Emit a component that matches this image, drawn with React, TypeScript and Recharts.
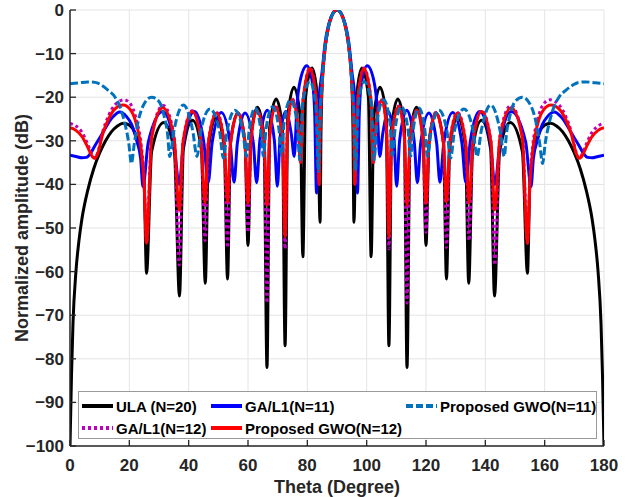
import React from 'react';
import { LineChart, Line, XAxis, YAxis, CartesianGrid } from 'recharts';

type Pt = [number, number];

const xTicks = [0, 20, 40, 60, 80, 100, 120, 140, 160, 180];
const yTicks = [-100, -90, -80, -70, -60, -50, -40, -30, -20, -10, 0];

// ULA (N=20)
const ulaN20: Pt[] = [
  [0, -100], [0.5, -84], [1, -72], [2, -60], [3, -53], [4, -48], [6, -41.3], [8, -36.4], [10, -32.8], [12, -30], [14, -27.9], [16, -26.6], [18, -26], [20, -26.4], [22, -28.4], [24, -33.6], [25, -40], [25.8, -60.4],
  [27.5, -32.5], [31.6, -25.8], [35.2, -32.5], [36.9, -65.6],
  [38.2, -32], [41.3, -25.3], [44.3, -32], [45.6, -62.7],
  [46.7, -31.5], [49.4, -24.6], [52, -31.5], [53.1, -61.7],
  [54.1, -30.5], [56.6, -23.6], [59, -30.5], [60, -54],
  [61, -29], [63.2, -22.3], [65.4, -29], [66.4, -82],
  [67.3, -27], [69.5, -20.4], [71.6, -27], [72.5, -77],
  [73.4, -24.5], [75.5, -17.7], [77.6, -24.5], [78.5, -56.6],
  [79.4, -20], [81.6, -13.3], [83.4, -20], [84.3, -48.7],
  [84.6, -28], [85, -16.9], [86, -8.6], [87, -4.3], [88, -1.8], [89, -0.4], [90, 0],
  [91, -0.4], [92, -1.8], [93, -4.3], [94, -8.6], [95, -16.9], [95.4, -28], [95.7, -48.7],
  [96.6, -20], [98.4, -13.3], [100.6, -20], [101.5, -56.6],
  [102.4, -24.5], [104.5, -17.7], [106.6, -24.5], [107.5, -77],
  [108.4, -27], [110.5, -20.4], [112.7, -27], [113.6, -82],
  [114.6, -29], [116.8, -22.3], [119, -29], [120, -54],
  [121, -30.5], [123.4, -23.6], [125.9, -30.5], [126.9, -61.7],
  [128, -31.5], [130.6, -24.6], [133.3, -31.5], [134.4, -62.7],
  [135.7, -32], [138.7, -25.3], [141.8, -32], [143.1, -65.6],
  [144.8, -32.5], [148.4, -25.8], [152.5, -32.5], [154.2, -60.4],
  [155, -40], [156, -33.6], [158, -28.4], [160, -26.4], [162, -26], [164, -26.6], [166, -27.9], [168, -30], [170, -32.8], [172, -36.4], [174, -41.3], [176, -48], [177, -53], [178, -60], [179, -72], [179.5, -84], [180, -100],
];

// GA/L1 (N=11)
const gaN11: Pt[] = [
  [0, -33.3], [2, -33.6], [4, -33.9], [5.5, -33.8], [7, -32.8], [8.5, -31], [10.5, -28.8], [12.5, -26.4], [14.5, -24.5], [16.8, -23.4], [19, -24.4], [20.8, -26.3], [22.5, -30], [23.8, -34], [24.6, -40.5],
  [26.4, -30.3], [31.3, -23.3], [35, -30.3], [36.8, -40],
  [38.3, -30.3], [42, -23.3], [45.1, -30.3], [46.6, -39.5],
  [47.9, -30.5], [51, -23.5], [54, -30.5], [55.3, -39.5],
  [56.4, -30.6], [59, -23.6], [61.8, -30.6], [62.9, -39.6],
  [64, -30], [66.5, -23], [68.9, -30], [69.9, -40.4],
  [70.8, -29.5], [72.7, -23.3], [74.6, -28.5], [75.6, -33.6],
  [76.5, -22], [77.5, -16.5], [79.8, -12.8], [81.8, -17], [82.5, -24], [83.1, -42],
  [83.5, -26], [84, -20], [85, -14], [86, -7.5], [87, -3.8], [88, -1.6], [89, -0.4], [90, 0],
  [91, -0.4], [92, -1.6], [93, -3.8], [94, -7.5], [95, -14], [96, -20], [96.5, -26], [96.9, -42],
  [97.5, -24], [98.2, -17], [100.2, -12.8], [102.5, -16.5], [103.5, -22], [104.4, -33.6],
  [105.4, -28.5], [107.3, -23.3], [109.2, -29.5], [110.1, -40.4],
  [111.1, -30], [113.5, -23], [116, -30], [117.1, -39.6],
  [118.2, -30.6], [121, -23.6], [123.6, -30.6], [124.7, -39.5],
  [126, -30.5], [129, -23.5], [132.1, -30.5], [133.4, -39.5],
  [134.9, -30.3], [138, -23.3], [141.7, -30.3], [143.2, -40],
  [145, -30.3], [148.7, -23.3], [153.6, -30.3], [155.4, -40.5],
  [156.2, -34], [157.5, -30], [159.2, -26.3], [161, -24.4], [163.2, -23.4], [165.5, -24.5], [167.5, -26.4], [169.5, -28.8], [171.5, -31], [173, -32.8], [174.5, -33.8], [176, -33.9], [178, -33.6], [180, -33.3],
];

// Proposed GWO (N=11)
const gwoN11: Pt[] = [
  [0, -16.9], [3, -16.7], [6, -16.5], [8.5, -16.6], [10.5, -17.2], [13, -18.5], [15.2, -20], [17, -22.5], [18.5, -26], [19.8, -30.5], [20.7, -35.2], [21.7, -30.5], [23, -25.5], [25, -21.5], [27.5, -20], [30, -21], [31.8, -24.5], [32.9, -28.5], [33.6, -33.6],
  [35, -27.8], [38.2, -21.8], [41.4, -27.8], [42.8, -33.6],
  [44.1, -27.7], [47.2, -22.7], [50.4, -27.7], [51.7, -34],
  [52.9, -28], [55.6, -23], [58.3, -28], [59.5, -33.6],
  [60.4, -27.5], [62.4, -22.5], [64.3, -27.5], [65.2, -33.6],
  [66.1, -27.2], [68.3, -22.2], [70.4, -27.2], [71.3, -33.3],
  [72.2, -25.6], [74.3, -20.6], [76.5, -25.6], [77.5, -34.4],
  [78.4, -21.4], [80.9, -16.4], [82.8, -21.4], [83.8, -37],
  [84.2, -26], [85, -16], [86, -8.3], [87, -4.2], [88, -1.8], [89, -0.4], [90, 0],
  [91, -0.4], [92, -1.8], [93, -4.2], [94, -8.3], [95, -16], [95.8, -26], [96.2, -37],
  [97.2, -21.4], [99.1, -16.4], [101.6, -21.4], [102.5, -34.4],
  [103.5, -25.6], [105.7, -20.6], [107.8, -25.6], [108.7, -33.3],
  [109.6, -27.2], [111.7, -22.2], [113.9, -27.2], [114.8, -33.6],
  [115.7, -27.5], [117.6, -22.5], [119.6, -27.5], [120.5, -33.6],
  [121.7, -28], [124.4, -23], [127.1, -28], [128.3, -34],
  [129.6, -27.7], [132.8, -22.7], [135.9, -27.7], [137.2, -33.6],
  [138.6, -27.8], [141.8, -21.8], [145, -27.8], [146.4, -33.6],
  [147.1, -28.5], [148.2, -24.5], [150, -21], [152.5, -20], [155, -21.5], [157, -25.5], [158.3, -30.5], [159.3, -35.2], [160.2, -30.5], [161.5, -26], [163, -22.5], [164.8, -20], [167, -18.5], [169.5, -17.2], [171.5, -16.6], [174, -16.5], [177, -16.7], [180, -16.9],
];

// GA/L1 (N=12)
const gaN12: Pt[] = [
  [0, -26], [2, -26.6], [4, -28], [6, -30.8], [7.5, -33.2], [8.4, -34], [9.4, -32.6], [11, -28], [13, -24.2], [15, -21.9], [18.3, -20.6], [20.8, -22], [22.5, -25.5], [24, -31], [25, -39], [25.8, -53.5],
  [27.5, -28.9], [31.4, -21.9], [35.1, -28.9], [36.8, -58.5],
  [38.1, -30.1], [41.2, -23.1], [44.2, -30.1], [45.5, -52.9],
  [46.6, -30.5], [49.4, -23.5], [52, -30.5], [53.1, -54.5],
  [54.1, -30.5], [56.7, -23.5], [59, -30.5], [60, -51],
  [61, -29.9], [63, -22.9], [65.4, -29.9], [66.4, -67.2],
  [67.3, -29], [69.2, -22], [71.6, -29], [72.5, -54.8],
  [73.3, -27.4], [74.9, -20.4], [76.9, -26.4], [77.7, -35],
  [78.6, -20.3], [80.9, -13.3], [83, -20.3], [84, -40],
  [84.3, -28], [85, -17], [86, -8.6], [87, -4.3], [88, -1.8], [89, -0.4], [90, 0],
  [91, -0.4], [92, -1.8], [93, -4.3], [94, -8.6], [95, -17], [95.7, -28], [96, -40],
  [97, -20.3], [99.1, -13.3], [101.4, -20.3], [102.3, -35],
  [103.1, -26.4], [105.1, -20.4], [106.7, -27.4], [107.5, -54.8],
  [108.4, -29], [110.8, -22], [112.7, -29], [113.6, -67.2],
  [114.6, -29.9], [117, -22.9], [119, -29.9], [120, -51],
  [121, -30.5], [123.3, -23.5], [125.9, -30.5], [126.9, -54.5],
  [128, -30.5], [130.6, -23.5], [133.4, -30.5], [134.5, -52.9],
  [135.8, -30.1], [138.8, -23.1], [141.9, -30.1], [143.2, -58.5],
  [144.9, -28.9], [148.6, -21.9], [152.5, -28.9], [154.2, -53.5],
  [155, -39], [156, -31], [157.5, -25.5], [159.2, -22], [161.7, -20.6], [165, -21.9], [167, -24.2], [169, -28], [170.6, -32.6], [171.6, -34], [172.5, -33.2], [174, -30.8], [176, -28], [178, -26.6], [180, -26],
];

// Proposed GWO (N=12)
const gwoN12: Pt[] = [
  [0, -27], [2, -27.6], [4, -29], [6, -31.5], [7.5, -33.6], [8.3, -34], [9.3, -33], [11, -28.5], [13, -25], [15, -22.8], [17.9, -21.8], [20.5, -23], [22.5, -26.5], [24, -32], [25, -40], [25.8, -53.5],
  [27.5, -29.4], [31.3, -22.4], [35.1, -29.4], [36.8, -45.9],
  [38.1, -30.3], [41.2, -23.3], [44.2, -30.3], [45.5, -44.3],
  [46.6, -30.6], [49.4, -23.6], [52, -30.6], [53.1, -44],
  [54.1, -30.6], [56.7, -23.6], [59, -30.6], [60, -44.3],
  [61, -30], [63, -23], [65.4, -30], [66.4, -44.7],
  [67.3, -29.2], [69.2, -22.2], [71.6, -29.2], [72.5, -52],
  [73.3, -27.6], [74.9, -20.6], [76.9, -26.6], [77.7, -35],
  [78.6, -20.4], [80.9, -13.4], [83, -20.4], [84, -40],
  [84.3, -28], [85, -17], [86, -8.6], [87, -4.3], [88, -1.8], [89, -0.4], [90, 0],
  [91, -0.4], [92, -1.8], [93, -4.3], [94, -8.6], [95, -17], [95.7, -28], [96, -40],
  [97, -20.4], [99.1, -13.4], [101.4, -20.4], [102.3, -35],
  [103.1, -26.6], [105.1, -20.6], [106.7, -27.6], [107.5, -52],
  [108.4, -29.2], [110.8, -22.2], [112.7, -29.2], [113.6, -44.7],
  [114.6, -30], [117, -23], [119, -30], [120, -44.3],
  [121, -30.6], [123.3, -23.6], [125.9, -30.6], [126.9, -44],
  [128, -30.6], [130.6, -23.6], [133.4, -30.6], [134.5, -44.3],
  [135.8, -30.3], [138.8, -23.3], [141.9, -30.3], [143.2, -45.9],
  [144.9, -29.4], [148.7, -22.4], [152.5, -29.4], [154.2, -53.5],
  [155, -40], [156, -32], [157.5, -26.5], [159.5, -23], [162.1, -21.8], [165, -22.8], [167, -25], [169, -28.5], [170.7, -33], [171.7, -34], [172.5, -33.6], [174, -31.5], [176, -29], [178, -27.6], [180, -27],
];

const FONT = '"Liberation Sans", Arial, Helvetica, sans-serif';
const AXIS = '#262626';

type Series = { name: string; pts: Pt[]; color: string; dash?: string };

// drawing order (bottom to top)
const drawOrder: Series[] = [
  { name: 'ULA (N=20)', pts: ulaN20, color: '#000000' },
  { name: 'GA/L1(N=11)', pts: gaN11, color: '#0000FF' },
  { name: 'GA/L1(N=12)', pts: gaN12, color: '#BF00BF', dash: '3 3' },
  { name: 'Proposed GWO(N=12)', pts: gwoN12, color: '#FF0000' },
  { name: 'Proposed GWO(N=11)', pts: gwoN11, color: '#0072BD', dash: '8 3' },
];

const legendRows: { name: string; color: string; dash?: string; col: number; row: number }[] = [
  { name: 'ULA (N=20)', color: '#000000', col: 0, row: 0 },
  { name: 'GA/L1(N=11)', color: '#0000FF', col: 1, row: 0 },
  { name: 'Proposed GWO(N=11)', color: '#0072BD', dash: '7 3', col: 2, row: 0 },
  { name: 'GA/L1(N=12)', color: '#BF00BF', dash: '3 3', col: 0, row: 1 },
  { name: 'Proposed GWO(N=12)', color: '#FF0000', col: 1, row: 1 },
];

const toRows = (pts: Pt[]) => pts.map(([x, y]) => ({ x, y }));
const fmt = (v: number) => (v < 0 ? '\u2212' + Math.abs(v) : String(v));

const BottomTick = (props: any) => {
  const { x, y, payload } = props;
  return (
    <g>
      <line x1={x} y1={y} x2={x} y2={y - 6} stroke={AXIS} strokeWidth={1.3} />
      <text x={x} y={y + 25} textAnchor="middle" fontSize={17} fontWeight="bold" fill={AXIS} fontFamily={FONT}>
        {fmt(payload.value)}
      </text>
    </g>
  );
};

const TopTick = (props: any) => {
  const { x, y } = props;
  return <line x1={x} y1={y} x2={x} y2={y + 6} stroke={AXIS} strokeWidth={1.3} />;
};

const LeftTick = (props: any) => {
  const { x, y, payload } = props;
  return (
    <g>
      <line x1={x} y1={y} x2={x + 6} y2={y} stroke={AXIS} strokeWidth={1.3} />
      <text x={x - 6} y={y + 6} textAnchor="end" fontSize={17} fontWeight="bold" fill={AXIS} fontFamily={FONT}>
        {fmt(payload.value)}
      </text>
    </g>
  );
};

const RightTick = (props: any) => {
  const { x, y } = props;
  return <line x1={x} y1={y} x2={x - 6} y2={y} stroke={AXIS} strokeWidth={1.3} />;
};

const XLabel = (props: any) => {
  const vb = props.viewBox;
  return (
    <text x={vb.x + vb.width / 2} y={vb.y + 47} textAnchor="middle" fontSize={18} fontWeight="bold" fill={AXIS} fontFamily={FONT}>
      Theta (Degree)
    </text>
  );
};

const YLabel = (props: any) => {
  const vb = props.viewBox;
  const cx = vb.x + 18;
  const cy = vb.y + vb.height / 2;
  return (
    <text x={cx} y={cy} transform={`rotate(-90, ${cx}, ${cy})`} textAnchor="middle" fontSize={18} fontWeight="bold" fill={AXIS} fontFamily={FONT}>
      Normalized amplitude (dB)
    </text>
  );
};

const Legend = () => (
  <div
    style={{
      position: 'absolute',
      left: 78,
      top: 391,
      width: 519,
      height: 48,
      border: '1px solid #9a9a9a',
      background: '#ffffff',
      boxSizing: 'border-box',
    }}
  >
    <svg width={517} height={46} style={{ display: 'block' }}>
      {legendRows.map((r) => {
        const colX = [3, 132, 327][r.col];
        const cy = r.row === 0 ? 14 : 36;
        return (
          <g key={r.name}>
            <line x1={colX} y1={cy} x2={colX + 31} y2={cy} stroke={r.color} strokeWidth={4} strokeDasharray={r.dash} />
            <text x={colX + 34} y={cy + 5.5} fontSize={15} fontWeight="bold" fill="#000" fontFamily={FONT}>
              {r.name}
            </text>
          </g>
        );
      })}
    </svg>
  </div>
);

export default function App() {
  return (
    <div style={{ position: 'relative', width: 629, height: 497, background: '#fff' }}>
      <style>{'body{margin:0;background:#fff;}'}</style>
      <LineChart width={629} height={497} margin={{ top: 10, right: 25, bottom: 6, left: 10 }}>
        <CartesianGrid stroke="#e4e4e4" strokeWidth={1} />
        <XAxis
          dataKey="x"
          type="number"
          domain={[0, 180]}
          ticks={xTicks}
          interval={0}
          height={45}
          tickSize={0}
          tickMargin={0}
          tick={<BottomTick />}
          axisLine={{ stroke: AXIS, strokeWidth: 1.5 }}
          allowDataOverflow
          label={<XLabel />}
        />
        <XAxis
          xAxisId="top"
          orientation="top"
          dataKey="x"
          type="number"
          domain={[0, 180]}
          ticks={xTicks}
          interval={0}
          height={0}
          tickSize={0}
          tickMargin={0}
          tick={<TopTick />}
          axisLine={{ stroke: AXIS, strokeWidth: 1.5 }}
          allowDataOverflow
        />
        <YAxis
          type="number"
          domain={[-100, 0]}
          ticks={yTicks}
          interval={0}
          width={60}
          tickSize={0}
          tickMargin={0}
          tick={<LeftTick />}
          axisLine={{ stroke: AXIS, strokeWidth: 1.5 }}
          allowDataOverflow
          label={<YLabel />}
        />
        <YAxis
          yAxisId="right"
          orientation="right"
          type="number"
          domain={[-100, 0]}
          ticks={yTicks}
          interval={0}
          width={0}
          tickSize={0}
          tickMargin={0}
          tick={<RightTick />}
          axisLine={{ stroke: AXIS, strokeWidth: 1.5 }}
          allowDataOverflow
        />
        {drawOrder.map((s) => (
          <Line
            key={s.name}
            name={s.name}
            data={toRows(s.pts)}
            dataKey="y"
            type="monotone"
            stroke={s.color}
            strokeWidth={3}
            strokeDasharray={s.dash}
            dot={false}
            activeDot={false}
            isAnimationActive={false}
          />
        ))}
      </LineChart>
      <Legend />
    </div>
  );
}
